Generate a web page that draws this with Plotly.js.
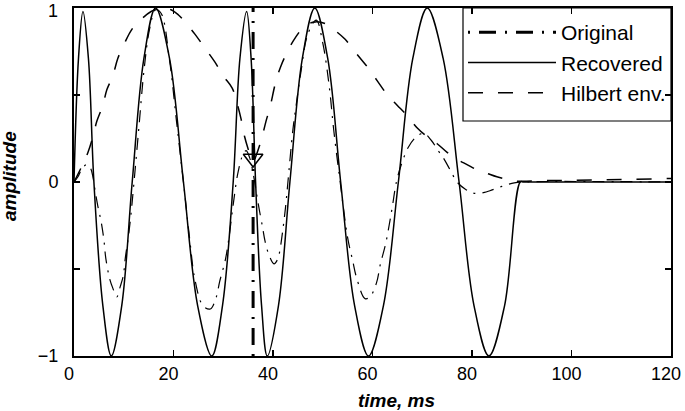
<!DOCTYPE html>
<html>
<head>
<meta charset="utf-8">
<script src="https://cdn.plot.ly/plotly-3.0.1.min.js"></script>
<style>html,body{margin:0;padding:0;background:#fff;}#chart{width:685px;height:411px;}</style>
</head>
<body>
<div id="chart"></div>
<script>
// Recovered signal (solid)
const recT = [0,0.9,1.8,2.9,4.0,5.8,7.5,9.6,11.7,14.05,16.4,19.2,22.0,24.85,27.7,29.85,32.0,33.35,34.7,35.6,36.5,37.7,38.85,41.1,43.4,45.9,48.4,51.0,53.6,56.4,59.2,62.2,65.2,68.1,71.0,74.2,77.4,80.4,83.4,86.55,89.7,90.4,100,120];
const recV = [0,0.71,0.98,0.71,0,-0.71,-1,-0.71,0,0.71,1,0.71,0,-0.71,-1,-0.71,0,0.71,0.98,0.71,0,-0.71,-1,-0.71,0,0.71,1,0.71,0,-0.71,-1,-0.71,0,0.71,1,0.71,0,-0.71,-1,-0.71,0,0,0,0];

// Original signal (dash-dot)
const origT = [0,0.8,1.5,2.5,3.3,3.8,4.3,4.8,5.4,6.0,6.4,7.2,7.8,8.6,9.3,9.9,10.3,10.9,11.4,12.0,13.0,14.1,15.2,16.4,17.5,19.2,20.6,22.0,23.3,24.3,25.9,27.4,28.5,29.3,30.4,31.0,32.0,33.0,34.0,34.6,35.3,36.2,37.0,37.9,38.4,39.2,40.2,41.0,41.4,42.0,42.5,43.0,44.0,44.6,45.6,47.0,48.7,50.0,51.3,52.2,53.5,55.0,56.0,56.8,58.5,59.5,60.8,61.6,62.6,63.4,64.0,64.8,65.8,67.2,68.8,70.3,71.8,73.2,74.2,75.6,77.0,78.6,80.5,82.5,83.6,86.0,88.5,90,120];
const origV = [0,0.03,0.07,0.1,0.08,0.03,-0.06,-0.14,-0.22,-0.33,-0.44,-0.56,-0.61,-0.66,-0.6,-0.54,-0.44,-0.32,-0.2,-0.02,0.3,0.65,0.88,0.99,0.97,0.7,0.35,0.0,-0.34,-0.56,-0.71,-0.73,-0.67,-0.57,-0.45,-0.35,-0.13,0.06,0.16,0.18,0.14,0.02,-0.12,-0.26,-0.34,-0.42,-0.47,-0.44,-0.39,-0.27,-0.15,0.0,0.3,0.43,0.63,0.85,0.93,0.8,0.55,0.3,0.0,-0.32,-0.45,-0.55,-0.67,-0.66,-0.58,-0.47,-0.36,-0.24,-0.14,0.0,0.1,0.2,0.26,0.28,0.24,0.18,0.14,0.07,0.0,-0.04,-0.065,-0.06,-0.05,-0.025,-0.005,0,0];

// Hilbert envelope (dashed)
const hilT = [0,1.4,2.8,3.8,4.6,5.8,6.6,7.8,8.8,10.2,11.7,13.7,15.5,17.5,19.5,21.0,22.3,24.3,26.3,28.3,30.0,31.8,32.8,33.6,34.3,35.0,35.6,36.1,36.7,37.3,37.9,38.6,39.4,40.5,41.5,42.9,44.5,46.5,48.5,50.5,52.5,54.5,57,59,61,63,65,67,69,71,73,75,77,79,81,83,85,87,89,95,105,120];
const hilV = [0,0.08,0.17,0.26,0.35,0.44,0.53,0.61,0.71,0.8,0.88,0.94,0.98,1.0,0.99,0.96,0.92,0.85,0.77,0.69,0.61,0.54,0.45,0.36,0.26,0.19,0.14,0.12,0.16,0.21,0.27,0.35,0.43,0.57,0.66,0.75,0.83,0.9,0.92,0.91,0.87,0.82,0.73,0.66,0.58,0.5,0.44,0.38,0.31,0.26,0.22,0.17,0.13,0.1,0.07,0.05,0.03,0.015,0.005,0.008,0.012,0.02];

// Marked instant (envelope minimum)
const markT = [36];
const markV = [0.135];
const markLineV = [-1, 1];

const xTicks = [0,20,40,60,80,100,120];
const yTicks = [-1,-0.5,0,0.5,1];
const yTickText = ['\u22121','','0','',''];
const yTopLabel = '1';

const FONT = 'Liberation Sans, Arial, sans-serif';

const traces = [
  {x: markT.concat(markT), y: markLineV, mode:'lines', name:'Original',
   line:{color:'#000', width:3, dash:'2px,9px,17px,9px'}, hoverinfo:'skip'},
  {x: recT, y: recV, mode:'lines', name:'Recovered',
   line:{color:'#000', width:1.5, shape:'spline', smoothing:1}},
  {x: hilT, y: hilV, mode:'lines', name:'Hilbert env.',
   line:{color:'#000', width:1.5, dash:'15px,15px', shape:'spline', smoothing:1}},
  {x: origT, y: origV, mode:'lines', name:'Original', showlegend:false,
   line:{color:'#000', width:1.2, dash:'12px,7px,2px,7px', shape:'spline', smoothing:1}},
  {x: markT, y: markV, mode:'markers', showlegend:false,
   marker:{symbol:'triangle-down-open', size:17, color:'#000', line:{width:1.5, color:'#000'}}}
];

const PL = 74, PR = 671, PT = 8, PB = 356;
const pw = PR - PL, ph = PB - PT;

const layout = {
  width:685, height:411,
  margin:{l:PL, r:685-PR, t:PT, b:411-PB},
  paper_bgcolor:'#fff', plot_bgcolor:'#fff',
  font:{family:FONT, color:'#000', size:18},
  showlegend:true,
  legend:{x:1, y:1 - 4/ph, xanchor:'right', yanchor:'top', bgcolor:'rgba(0,0,0,0)',
          borderwidth:0, font:{family:FONT, size:21, color:'#000'},
          itemwidth:88},
  shapes:[
    {type:'rect', xref:'paper', yref:'paper', x0:(463-PL)/pw, x1:1, y0:(PB-121)/ph, y1:1,
     line:{color:'#000', width:1.2}, fillcolor:'rgba(0,0,0,0)', layer:'above'}
  ],
  xaxis:{range:[0,120], tickvals:xTicks, ticks:'inside', ticklen:6, tickwidth:1.5,
         tickcolor:'#000', showline:true, linecolor:'#000', linewidth:2, mirror:'ticks',
         showgrid:false, zeroline:false, tickfont:{size:18, family:FONT}, ticklabelshift:-5},
  yaxis:{range:[-1,1], tickvals:yTicks, ticktext:yTickText, ticks:'inside', ticklen:6, tickwidth:1.5,
         tickcolor:'#000', showline:true, linecolor:'#000', linewidth:2, mirror:'ticks',
         showgrid:false, zeroline:false, tickfont:{size:18, family:FONT},
         ticklabelstandoff:10, ticklabeloverflow:'allow'},
  annotations:[
    {text:yTopLabel, xref:'paper', yref:'y', x:-(PL-52.5)/pw, y:1, yshift:-3,
     xanchor:'center', yanchor:'middle', showarrow:false, borderpad:0,
     font:{family:FONT, size:18, color:'#000'}},
    {text:'time, ms', xref:'paper', yref:'paper', x:(396-PL)/pw, y:-(400-PB)/ph,
     xanchor:'center', yanchor:'middle', showarrow:false,
     font:{family:FONT, size:19, weight:'bold', style:'italic', color:'#000'}},
    {text:'amplitude', xref:'paper', yref:'paper', x:-(PL-9)/pw, y:(PB-176)/ph,
     xanchor:'center', yanchor:'middle', showarrow:false, textangle:-90,
     font:{family:FONT, size:19, weight:'bold', style:'italic', color:'#000'}}
  ]
};

Plotly.newPlot('chart', traces, layout, {displayModeBar:false, staticPlot:true});
</script>
</body>
</html>
